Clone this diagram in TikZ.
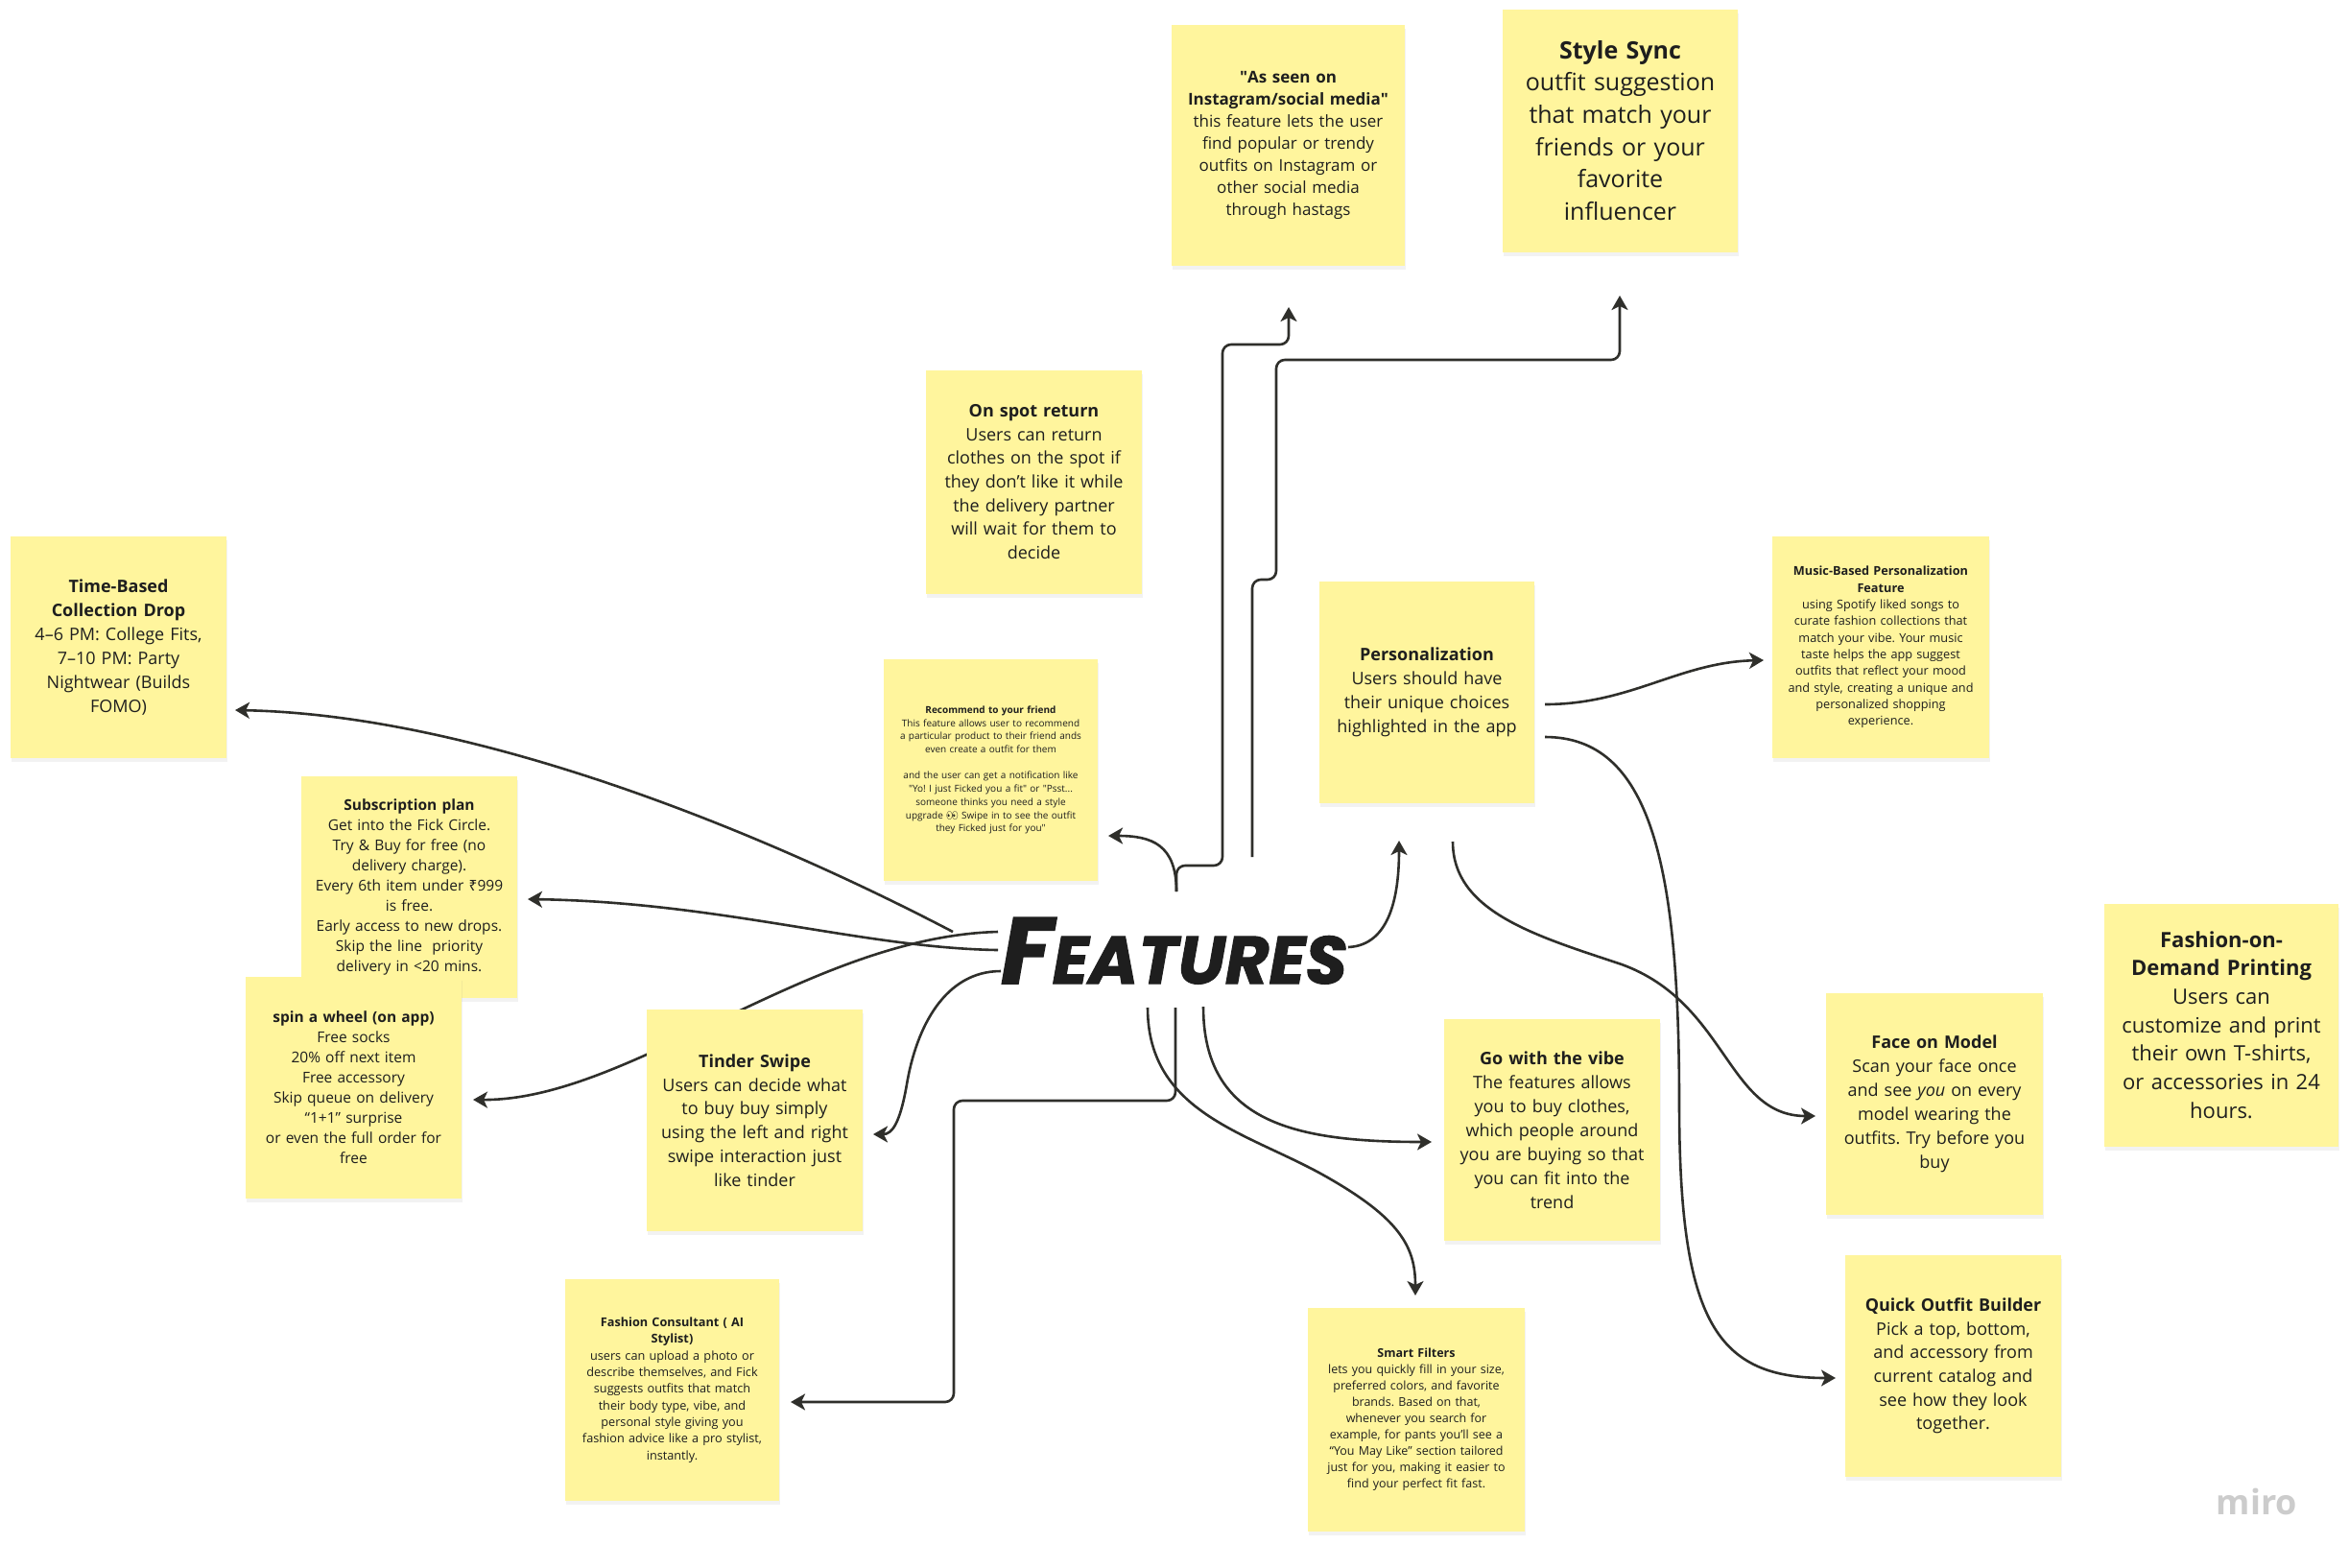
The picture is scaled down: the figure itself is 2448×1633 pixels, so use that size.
\documentclass[tikz,border=0pt]{standalone}
\usepackage{fontspec}
\setmainfont{Open Sans}
\newfontfamily\titlefont{Poppins}[BoldItalicFeatures={FakeBold=1.5}]
\newfontfamily\emojifont{Noto Emoji}
\newfontfamily\rupeefont{Noto Sans}
\usetikzlibrary{arrows.meta,shadows}
\definecolor{sticky}{HTML}{FFF59D}
\definecolor{ink}{HTML}{1E1E1E}
\definecolor{wire}{HTML}{2F2F2B}
\newcommand{\fsz}[2]{\fontsize{#1}{#2}\selectfont}
\newcommand{\dq}{\textquotedbl}
\frenchspacing
\begin{document}
\begin{tikzpicture}[x=1pt,y=-1pt,
  note/.style={fill=sticky, draw=none, inner sep=0pt, align=center, text=ink,
    drop shadow={opacity=0.10, shadow xshift=1pt, shadow yshift=-4pt}},
  conn/.style={draw=wire, line width=2.6pt, -{Stealth[length=15pt,width=17pt,inset=4pt]}},
  elbow/.style={conn, rounded corners=9pt},
]
\useasboundingbox[fill=white] (0,0) rectangle (2448,1633);

% ---------- connector end points ----------
\coordinate (fA) at (993,971);
\coordinate (fB) at (1040,990);
\coordinate (fC) at (1040,971);
\coordinate (fD) at (1043,1012);
\coordinate (fTop) at (1226,929);
\coordinate (fG) at (1305,893);
\coordinate (fH) at (1405,987);
\coordinate (fM) at (1196,1050);
\coordinate (fK) at (1225,1050);
\coordinate (fL) at (1254,1049);
\coordinate (pI) at (1610,734);
\coordinate (pJ) at (1610,768);
\coordinate (pK) at (1514,877);

\coordinate (tbIn) at (245,740);
\coordinate (subIn) at (550,937);
\coordinate (spinIn) at (493,1146);
\coordinate (tinIn) at (910,1182);
\coordinate (recIn) at (1155,871);
\coordinate (instaIn) at (1343,320);
\coordinate (styleIn) at (1688,308);
\coordinate (perIn) at (1458,876);
\coordinate (musIn) at (1838,688);
\coordinate (quickIn) at (1913,1436);
\coordinate (faceIn) at (1892,1163);
\coordinate (vibeIn) at (1492,1190);
\coordinate (smartIn) at (1475,1350);
\coordinate (fcIn) at (824,1461);

% ---------- connectors ----------
\draw[conn] (fA) .. controls (800,870) and (500,745) .. (tbIn);
\draw[conn] (fB) .. controls (900,988) and (750,940) .. (subIn);
\draw[conn] (fC) .. controls (843,976) and (656,1147) .. (spinIn);
\draw[conn] (fD) .. controls (985,1012) and (955,1070) .. (945,1130) .. controls (938,1170) and (930,1182) .. (tinIn);
\draw[conn] (fTop) .. controls (1226,880) and (1200,871) .. (recIn);
\draw[elbow] (fTop) -- (1226,902) -- (1274,902) -- (1274,359) -- (1343,359) -- (instaIn);
\draw[elbow] (fG) -- (1305,604) -- (1330,604) -- (1330,375) -- (1688,375) -- (styleIn);
\draw[conn] (fH) .. controls (1450,985) and (1458,930) .. (perIn);
\draw[conn] (pI) .. controls (1700,734) and (1750,690) .. (musIn);
\draw[conn] (pJ) .. controls (1720,768) and (1750,900) .. (1750,1150) .. controls (1750,1380) and (1790,1436) .. (quickIn);
\draw[conn] (pK) .. controls (1514,950) and (1600,975) .. (1690,1005) .. controls (1800,1045) and (1800,1163) .. (faceIn);
\draw[conn] (fL) .. controls (1254,1170) and (1350,1190) .. (vibeIn);
\draw[conn] (fM) .. controls (1196,1160) and (1300,1180) .. (1380,1225) .. controls (1460,1270) and (1475,1300) .. (smartIn);
\draw[elbow] (fK) -- (1225,1147) -- (994,1147) -- (994,1461) -- (fcIn);

% ---------- sticky notes ----------
\node[note, minimum width=243pt, minimum height=251pt, text width=237pt, font=\fsz{17}{23}] (insta) at (1342.5,151)
{{\bfseries \dq As seen on\\Instagram/social media\dq}\\this feature lets the user\\find popular or trendy\\outfits on Instagram or\\other social media\\through hastags};

\node[note, minimum width=245pt, minimum height=253pt, text width=239pt, font=\fsz{25}{33.7}] (style) at (1688.5,136)
{{\bfseries Style Sync}\\outfit suggestion\\that match your\\friends or your\\favorite\\influencer};

\node[note, minimum width=225pt, minimum height=233pt, text width=219pt, font=\fsz{18}{24.7}] (onspot) at (1077.5,502)
{{\bfseries On spot return}\\Users can return\\clothes on the spot if\\they don't like it while\\the delivery partner\\will wait for them to\\decide};

\node[note, minimum width=225pt, minimum height=231pt, text width=219pt, font=\fsz{18}{25}] (tb) at (123.5,674.5)
{{\bfseries Time-Based\\Collection Drop}\\4–6 PM: College Fits,\\7–10 PM: Party\\Nightwear (Builds\\FOMO)};

\node[note, minimum width=223pt, minimum height=231pt, text width=217pt, font=\fsz{10}{13.7}] (rec) at (1032.5,802.5)
{{\bfseries Recommend to your friend}\\This feature allows user to recommend\\a particular product to their friend ands\\even create a outfit for them\\[13.7pt]and the user can get a notification like\\\dq Yo! I just Ficked you a fit\dq{} or \dq Psst...\\someone thinks you need a style\\upgrade {\emojifont 👀} Swipe in to see the outfit\\they Ficked just for you\dq};

\node[note, minimum width=224pt, minimum height=231pt, text width=218pt, font=\fsz{18}{25}] (per) at (1487,721.5)
{{\bfseries Personalization}\\Users should have\\their unique choices\\highlighted in the app};

\node[note, minimum width=226pt, minimum height=231pt, text width=220pt, font=\fsz{12.7}{17.3}] (mus) at (1960,674.5)
{{\bfseries Music-Based Personalization\\Feature}\\using Spotify liked songs to\\curate fashion collections that\\match your vibe. Your music\\taste helps the app suggest\\outfits that reflect your mood\\and style, creating a unique and\\personalized shopping\\experience.};

\node[note, minimum width=225pt, minimum height=231pt, text width=219pt, font=\fsz{15.5}{21}] (sub) at (426.5,924.5)
{{\bfseries Subscription plan}\\Get into the Fick Circle.\\Try \& Buy for free (no\\delivery charge).\\Every 6th item under {\rupeefont ₹}999\\is free.\\Early access to new drops.\\Skip the line\ \ priority\\delivery in <20 mins.};

\node[note, minimum width=225pt, minimum height=231pt, text width=219pt, font=\fsz{15.5}{21}] (spin) at (368.5,1133.5)
{{\bfseries spin a wheel (on app)}\\Free socks\\20\% off next item\\Free accessory\\Skip queue on delivery\\“1+1” surprise\\or even the full order for\\free};

\node[note, minimum width=225pt, minimum height=231pt, text width=219pt, font=\fsz{18}{24.7}] (tin) at (786.5,1167.5)
{{\bfseries Tinder Swipe}\\Users can decide what\\to buy buy simply\\using the left and right\\swipe interaction just\\like tinder};

\node[note, minimum width=223pt, minimum height=231pt, text width=217pt, font=\fsz{12.7}{17.3}] (fc) at (700.5,1448.5)
{{\bfseries Fashion Consultant ( AI\\Stylist)}\\users can upload a photo or\\describe themselves, and Fick\\suggests outfits that match\\their body type, vibe, and\\personal style giving you\\fashion advice like a pro stylist,\\instantly.};

\node[note, minimum width=225pt, minimum height=231pt, text width=219pt, font=\fsz{18}{25}] (vibe) at (1617.5,1177.5)
{{\bfseries Go with the vibe}\\The features allows\\you to buy clothes,\\which people around\\you are buying so that\\you can fit into the\\trend};

\node[note, minimum width=226pt, minimum height=233pt, text width=220pt, font=\fsz{12.5}{17}] (smart) at (1476,1479.5)
{{\bfseries Smart Filters}\\lets you quickly fill in your size,\\preferred colors, and favorite\\brands. Based on that,\\whenever you search for\\example, for pants you’ll see a\\“You May Like” section tailored\\just for you, making it easier to\\find your perfect fit fast.};

\node[note, minimum width=226pt, minimum height=231pt, text width=220pt, font=\fsz{18}{25}] (face) at (2016,1150.5)
{{\bfseries Face on Model}\\Scan your face once\\and see \textit{you} on every\\model wearing the\\outfits. Try before you\\buy};

\node[note, minimum width=225pt, minimum height=231pt, text width=219pt, font=\fsz{18}{24.7}] (quick) at (2035.5,1423.5)
{{\bfseries Quick Outfit Builder}\\Pick a top, bottom,\\and accessory from\\current catalog and\\see how they look\\together.};

\node[note, minimum width=244pt, minimum height=253pt, text width=238pt, font=\fsz{22}{29.7}] (demand) at (2315,1068)
{{\bfseries Fashion-on-\\Demand Printing}\\Users can\\customize and print\\their own T-shirts,\\or accessories in 24\\hours.};

% ---------- title ----------
\node[anchor=base west, inner sep=0pt, text=ink] (feat) at (1043,1025)
{\titlefont\bfseries\itshape\fsz{98}{98}F\fsz{70}{70}EATURES};

\node[text=black!20, inner sep=0pt, font=\fsz{36}{36}\bfseries] (miro) at (2352,1565) {miro};
\end{tikzpicture}
\end{document}
